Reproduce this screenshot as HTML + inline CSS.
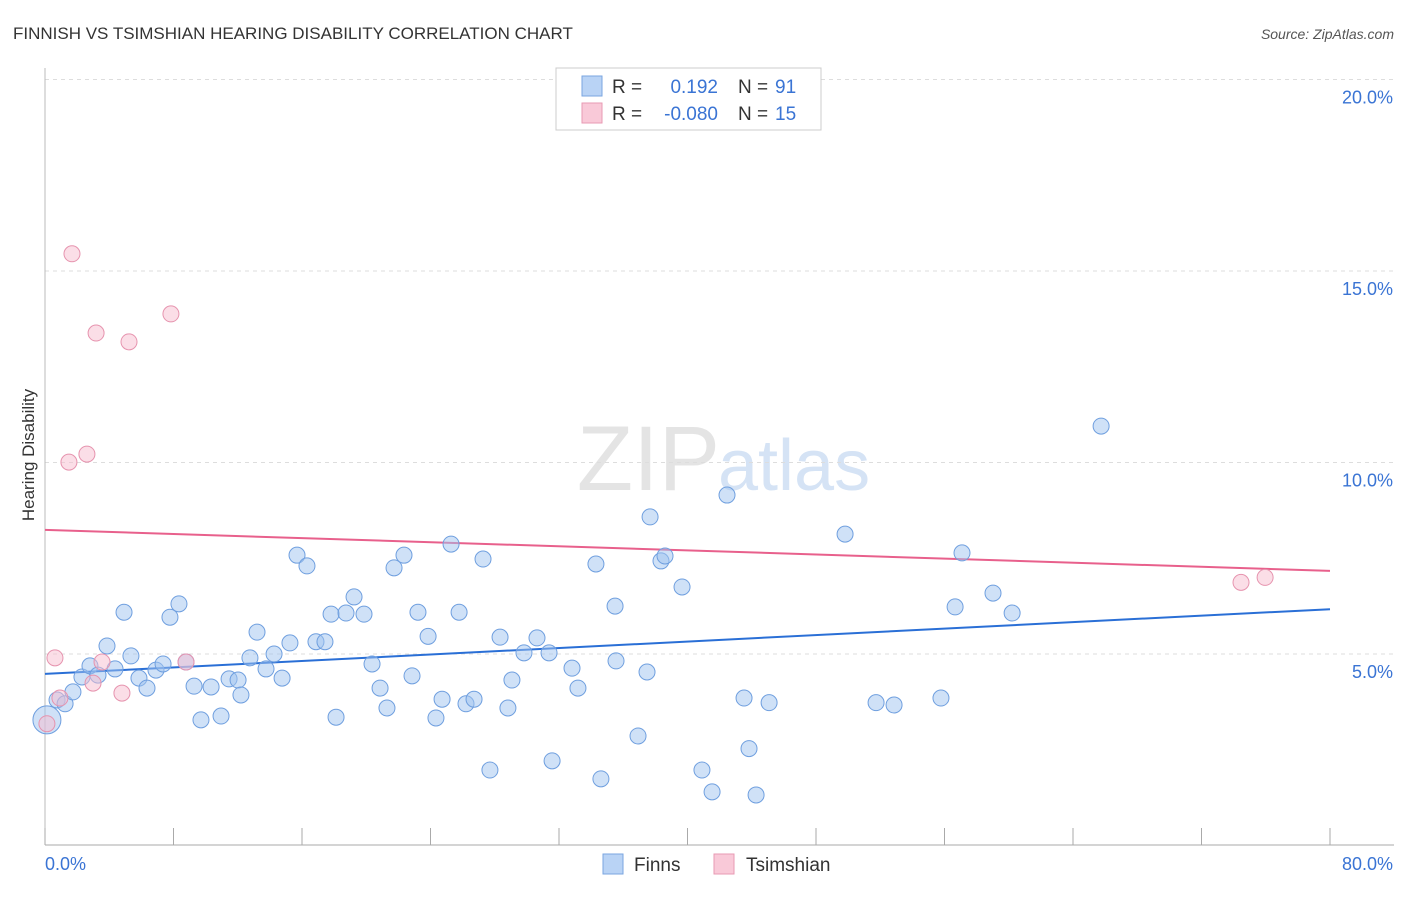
<!DOCTYPE html>
<html><head><meta charset="utf-8"><style>
body{margin:0;background:#fff;font-family:"Liberation Sans",sans-serif}
svg text{font-family:"Liberation Sans",sans-serif}
</style></head><body>
<svg id="chart" width="1406" height="892" xmlns="http://www.w3.org/2000/svg">
<text x="13" y="39" font-size="17" fill="#333">FINNISH VS TSIMSHIAN HEARING DISABILITY CORRELATION CHART</text>
<text x="1394" y="39" font-size="14" fill="#555" font-style="italic" text-anchor="end">Source: ZipAtlas.com</text>
<text x="720" y="490" font-size="92" fill="#e4e4e4" text-anchor="end" font-family="Liberation Serif">ZIP</text>
<text x="718" y="490" font-size="72" fill="#d5e3f5">atlas</text>
<text transform="translate(34,455) rotate(-90)" font-size="17" fill="#333" text-anchor="middle">Hearing Disability</text>
<g id="grid"></g><g id="axes"></g><g id="lines"></g><g id="pts"></g>
<g>
<rect x="556" y="68" width="265" height="62" fill="#fff" stroke="#ccc"/>
<rect x="582" y="76" width="20" height="20" fill="#b9d3f5" stroke="#7aa6e0"/>
<rect x="582" y="103" width="20" height="20" fill="#f9c9d8" stroke="#e89ab3"/>
<text x="612" y="93" font-size="19" fill="#333">R =</text>
<text x="718" y="93" font-size="19" fill="#3a74d4" text-anchor="end">0.192</text>
<text x="738" y="93" font-size="19" fill="#333">N =</text>
<text x="775" y="93" font-size="19" fill="#3a74d4">91</text>
<text x="612" y="120" font-size="19" fill="#333">R =</text>
<text x="718" y="120" font-size="19" fill="#3a74d4" text-anchor="end">-0.080</text>
<text x="738" y="120" font-size="19" fill="#333">N =</text>
<text x="775" y="120" font-size="19" fill="#3a74d4">15</text>
</g>
<g>
<rect x="603" y="854" width="20" height="20" fill="#b9d3f5" stroke="#7aa6e0"/>
<text x="634" y="871" font-size="19" fill="#333">Finns</text>
<rect x="714" y="854" width="20" height="20" fill="#f9c9d8" stroke="#e89ab3"/>
<text x="746" y="871" font-size="19" fill="#333">Tsimshian</text>
</g>
</svg>
<script>
const finnsX=[0.75,1.25,1.74,0.12,2.30,2.80,3.30,3.86,4.36,4.92,5.35,5.85,6.35,6.91,7.35,7.78,8.34,8.78,9.28,9.71,10.34,10.96,11.46,12.02,12.20,12.76,13.20,13.76,14.26,14.76,15.25,15.69,16.31,16.87,17.43,17.81,18.12,18.74,19.24,19.86,20.36,20.86,21.29,21.73,22.35,22.85,23.22,23.85,24.34,24.72,25.28,25.78,26.21,26.71,27.27,27.70,28.33,28.82,29.07,29.82,30.63,31.38,31.57,32.81,33.18,34.30,34.61,35.49,35.55,36.92,37.48,37.67,38.35,38.60,39.66,40.90,41.53,42.46,43.52,43.83,44.27,45.08,49.81,51.74,52.86,55.78,56.66,57.09,59.02,60.21,65.75];
const finnsY=[3.80,3.70,4.01,3.28,4.40,4.69,4.45,5.21,4.61,6.09,4.95,4.37,4.11,4.58,4.74,5.96,6.31,4.79,4.16,3.28,4.14,3.38,4.35,4.32,3.93,4.90,5.57,4.61,5.00,4.37,5.29,7.58,7.30,5.32,5.32,6.04,3.35,6.07,6.49,6.04,4.74,4.11,3.59,7.25,7.58,4.43,6.09,5.46,3.33,3.82,7.87,6.09,3.70,3.82,7.48,1.97,5.44,3.59,4.32,5.03,5.42,5.03,2.21,4.63,4.11,7.35,1.74,6.25,4.82,2.86,4.53,8.58,7.43,7.56,6.75,1.97,1.40,9.15,3.85,2.53,1.32,3.73,8.13,3.73,3.67,3.85,6.23,7.64,6.59,6.07,10.95];
const tsimX=[1.68,3.18,5.23,7.84,1.49,2.61,0.62,3.55,2.99,4.79,8.78,0.12,74.46,75.96,0.93];
const tsimY=[15.45,13.38,13.15,13.88,10.01,10.22,4.90,4.79,4.24,3.98,4.79,3.18,6.87,7.00,3.85];
const finnsTrend=[4.48,6.17];
const tsimTrend=[8.24,7.17];
const yTicks=[5,10,15,20];
const yTickLabels=["5.0%","10.0%","15.0%","20.0%"];
const NS="http://www.w3.org/2000/svg";
const X=v=>45+v/80*1285, Y=v=>845.5-v*38.3;
function mk(t,a,p){const e=document.createElementNS(NS,t);for(const k in a)e.setAttribute(k,a[k]);document.getElementById(p).appendChild(e);return e;}
yTicks.forEach((t,i)=>{
 const g=mk('line',{x1:45,x2:1394,y1:Y(t),y2:Y(t),stroke:'#ddd','stroke-dasharray':'4,4'},'grid');
 
 
 const l=mk('text',{x:1393,y:Y(t)+24,'font-size':18,fill:'#3a74d4','text-anchor':'end'},'axes');
 l.textContent=yTickLabels[i];
 
 
});
const ax=mk('line',{x1:45,x2:1394,y1:845,y2:845,stroke:'#aaa'},'axes');


const ay=mk('line',{x1:45,x2:45,y1:68,y2:845,stroke:'#bbb'},'axes');


for(let i=0;i<=10;i++){const t=mk('line',{x1:X(i*8),x2:X(i*8),y1:828,y2:845,stroke:'#aaa'},'axes');
 
 }
const x0=mk('text',{x:45,y:870,'font-size':18,fill:'#3a74d4'},'axes');x0.textContent='0.0%';


const x1=mk('text',{x:1393,y:870,'font-size':18,fill:'#3a74d4','text-anchor':'end'},'axes');x1.textContent='80.0%';


function pts(xs,ys,fill,stroke,name){xs.forEach((x,i)=>{
 const r=(i===3&&name==='finns-point')?14:8;
 const c=mk('circle',{cx:X(x),cy:Y(ys[i]),r:r,fill:fill,stroke:stroke,'stroke-width':1},'pts');
 
 });}
pts(finnsX,finnsY,'rgba(160,196,240,0.5)','#6f9fdf','finns-point');
pts(tsimX,tsimY,'rgba(248,190,208,0.5)','#e693ae','tsimshian-point');
const bl=mk('line',{x1:X(0),x2:X(80),y1:Y(finnsTrend[0]),y2:Y(finnsTrend[1]),stroke:'#2a6fd6','stroke-width':2},'lines');


const pl=mk('line',{x1:X(0),x2:X(80),y1:Y(tsimTrend[0]),y2:Y(tsimTrend[1]),stroke:'#e8608c','stroke-width':2},'lines');


</script>
</body></html>
